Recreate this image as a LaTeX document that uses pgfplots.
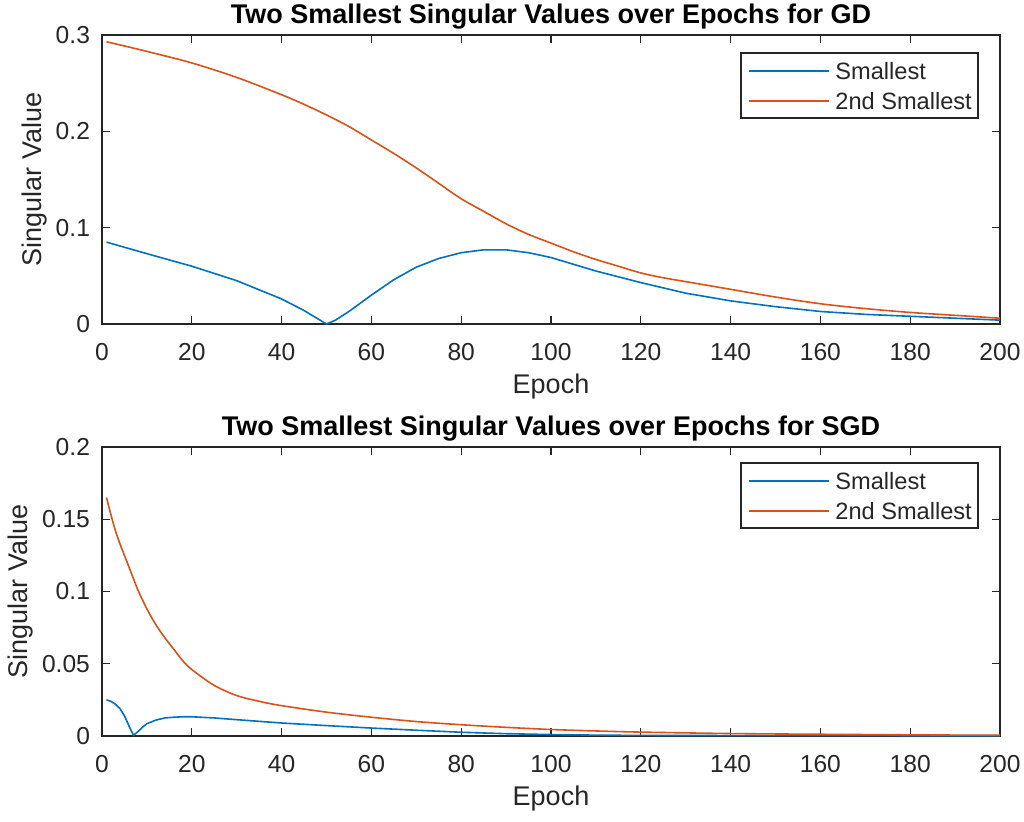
\documentclass[border=0pt]{standalone}
\usepackage{pgfplots}
\pgfplotsset{compat=1.18}
\usepackage{fontspec}
\setmainfont{Liberation Sans}

\definecolor{mblue}{rgb}{0,0.447,0.741}
\definecolor{morange}{rgb}{0.85,0.325,0.098}
\definecolor{axgray}{gray}{0.15}

\tikzset{
  sblue/.style={draw=mblue, line width=0.8pt},
  sorange/.style={draw=morange, line width=0.8pt},
}

\pgfplotsset{
  svstyle/.style={
    scale only axis, width=449pt, height=144.5pt,
    xmin=0, xmax=200, xtick={0,20,...,200},
    axis line style={axgray, line width=0.6pt},
    tick style={axgray, line width=0.6pt},
    tick align=inside, major tick length=4pt,
    xtick pos=both, ytick pos=both,
    xticklabel pos=lower, yticklabel pos=left,
    ticklabel style={font=\fontsize{12.3}{14}\selectfont, text=axgray},
    xticklabel style={yshift=-6pt},
    yticklabel style={xshift=-2.5pt, /pgf/number format/fixed, /pgf/number format/precision=2},
    scaled ticks=false,
    /pgf/number format/assume math mode=true,
    label style={font=\fontsize{13.5}{15}\selectfont, text=axgray},
    ylabel shift=-2.5pt,
    title style={font=\fontsize{13.5}{15}\selectfont\bfseries, yshift=-6.6pt},
    xlabel={Epoch}, ylabel={Singular Value},
  },
}

% Legend box in the upper right corner; #1 = gap between axis top and box top
\newcommand{\svlegend}[1]{%
  \draw[axgray, line width=0.6pt, fill=white]
    ([xshift=319.5pt, yshift=-#1]rel axis cs:0,1) rectangle
    ([xshift=438pt, yshift=-#1-32.5pt]rel axis cs:0,1);
  \draw[sblue]
    ([xshift=323.5pt, yshift=-#1-9pt]rel axis cs:0,1) --
    ([xshift=363.5pt, yshift=-#1-9pt]rel axis cs:0,1);
  \draw[sorange]
    ([xshift=323.5pt, yshift=-#1-24pt]rel axis cs:0,1) --
    ([xshift=363.5pt, yshift=-#1-24pt]rel axis cs:0,1);
  \node[anchor=base west, inner sep=0pt, text=axgray, font=\fontsize{11.8}{13.5}\selectfont]
    at ([xshift=366.5pt, yshift=-#1-13.2pt]rel axis cs:0,1) {Smallest};
  \node[anchor=base west, inner sep=0pt, text=axgray, font=\fontsize{11.8}{13.5}\selectfont]
    at ([xshift=366.5pt, yshift=-#1-28.2pt]rel axis cs:0,1) {2nd Smallest};
}

\begin{document}
\begin{tikzpicture}
\useasboundingbox (0,0) rectangle (512pt,410.5pt);

% Full-batch gradient descent
\begin{axis}[svstyle, at={(51pt,248.5pt)}, anchor=south west,
  ymin=0, ymax=0.3, ytick={0,0.1,0.2,0.3},
  title={Two Smallest Singular Values over Epochs for GD}]
\addplot[sblue] coordinates {
(1,0.085) (10,0.073) (20,0.060) (30,0.045) (40,0.026) (45,0.014) (50,0.0)
(52,0.004) (55,0.013) (60,0.030) (65,0.046) (70,0.059) (75,0.068) (80,0.074)
(85,0.077) (90,0.077) (95,0.074) (100,0.069) (110,0.055) (120,0.043)
(130,0.032) (140,0.024) (150,0.018) (160,0.013) (170,0.010) (180,0.008)
(190,0.006) (200,0.004)};
\addplot[sorange, smooth] coordinates {
(1,0.293) (10,0.283) (20,0.271) (30,0.256) (40,0.238) (45,0.228) (50,0.217)
(55,0.205) (60,0.191) (65,0.177) (70,0.162) (75,0.146) (80,0.130) (85,0.117)
(90,0.104) (95,0.093) (100,0.084) (105,0.075) (110,0.067) (115,0.060)
(120,0.053) (125,0.048) (130,0.044) (140,0.036) (150,0.028) (160,0.021)
(170,0.016) (180,0.012) (190,0.009) (200,0.006)};
\svlegend{9pt}
\end{axis}

% Stochastic gradient descent
\begin{axis}[svstyle, at={(51pt,42.5pt)}, anchor=south west,
  ymin=0, ymax=0.2, ytick={0,0.05,0.1,0.15,0.2},
  title={Two Smallest Singular Values over Epochs for SGD}]
\addplot[sblue] coordinates {
(1,0.025) (2,0.024) (3,0.022) (4,0.019) (5,0.014) (6,0.007) (7,0.0005)
(8,0.003) (9,0.006) (10,0.0085) (12,0.011) (14,0.0125) (16,0.013)
(18,0.0133) (20,0.0133) (25,0.0125) (30,0.0113) (40,0.009) (50,0.0072)
(60,0.0055) (70,0.004) (80,0.0026) (90,0.0016) (100,0.001) (110,0.0006)
(120,0.0004) (140,0.0003) (160,0.0003) (180,0.0002) (200,0.0002)};
\addplot[sorange, smooth] coordinates {
(1,0.165) (2,0.153) (3,0.142) (4,0.133) (5,0.125) (6,0.117) (7,0.109)
(8,0.101) (10,0.088) (12,0.077) (14,0.068) (16,0.060) (18,0.052) (20,0.046)
(25,0.035) (30,0.028) (35,0.024) (40,0.021) (50,0.0165) (60,0.013)
(70,0.010) (80,0.0078) (90,0.006) (100,0.0045) (110,0.0035) (120,0.0027)
(140,0.0017) (160,0.0012) (180,0.0008) (200,0.0005)};
\svlegend{8pt}
\end{axis}
\end{tikzpicture}
\end{document}
